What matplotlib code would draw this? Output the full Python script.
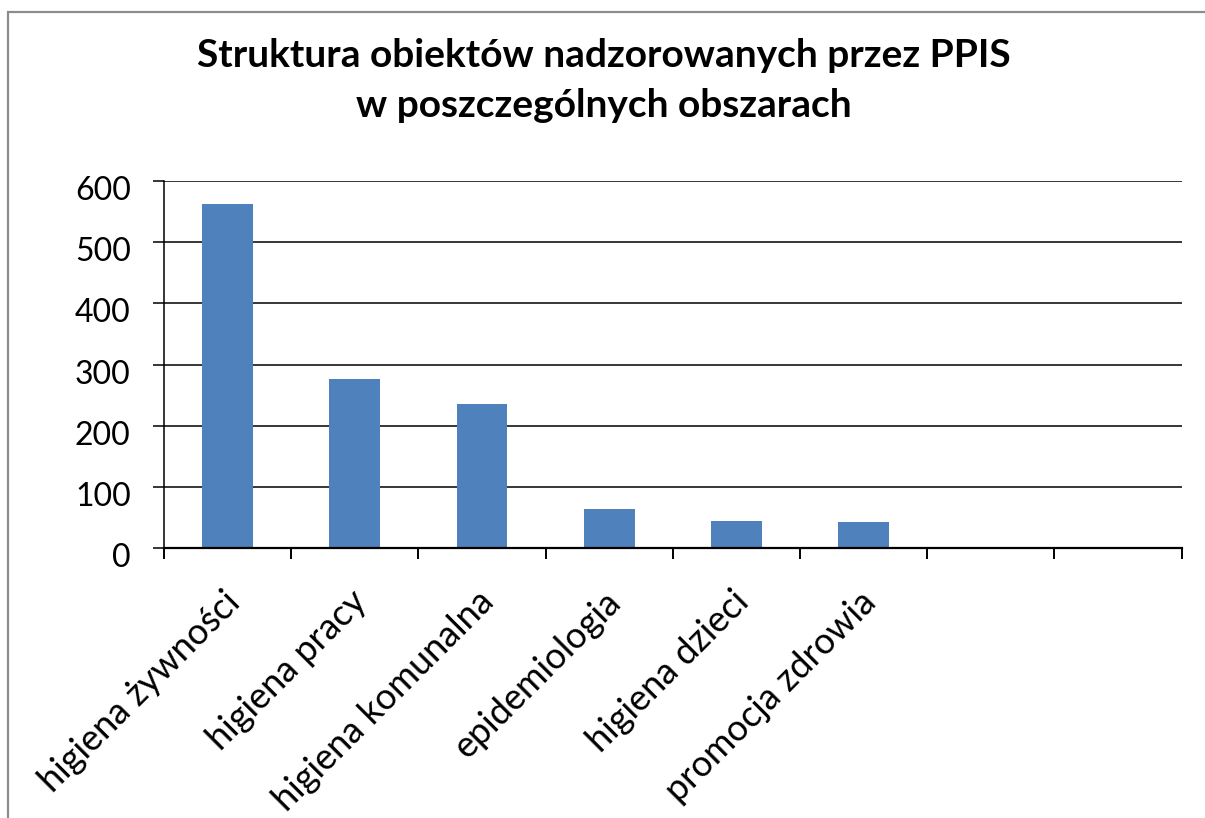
import matplotlib
matplotlib.use('Agg')
import matplotlib.pyplot as plt
import matplotlib.transforms as mtransforms
from matplotlib.patches import Rectangle

plt.rcParams['font.family'] = ['Lato', 'DejaVu Sans']

# data
categories = ['higiena żywności', 'higiena pracy', 'higiena komunalna',
              'epidemiologia', 'higiena dzieci', 'promocja zdrowia', '', '']
values = [563, 276, 235, 63, 44, 43]
yticks = [0, 100, 200, 300, 400, 500, 600]
title_lines = ['Struktura obiektów nadzorowanych przez PPIS',
               'w poszczególnych obszarach']

BAR_COLOR = '#4F81BD'

fig = plt.figure(figsize=(12.05, 8.18), dpi=100)
fig.patch.set_facecolor('white')

# chart area frame (grey border, runs past right/bottom edge like the screenshot)
fig.patches.append(Rectangle((8 / 1205, -0.05), 1.1, 1 - 12 / 818 + 0.05,
                             transform=fig.transFigure, fill=False,
                             edgecolor='#8c8c8c', linewidth=1.6))

ax = fig.add_axes([164 / 1205, 1 - 548 / 818, (1181.5 - 164) / 1205, (548 - 181) / 818])

centers = [i + 0.5 for i in range(len(values))]
ax.bar(centers, values, width=0.4, color=BAR_COLOR, zorder=3)

ax.set_xlim(0, len(categories))
ax.set_ylim(0, 600)

# y axis
ax.set_yticks(yticks)
ax.set_yticklabels([str(v) for v in yticks], fontsize=23)
ax.yaxis.grid(True, color='black', linewidth=1.1, zorder=1)
ax.tick_params(axis='y', direction='out', length=8, width=1.1, pad=16, colors='black')
off_y = mtransforms.ScaledTranslation(0, -0.07, fig.dpi_scale_trans)
for lab in ax.get_yticklabels():
    lab.set_transform(lab.get_transform() + off_y)

# x axis: ticks on category boundaries, labels at centres
ax.set_xticks(range(len(categories) + 1))
ax.set_xticklabels([])
ax.tick_params(axis='x', which='major', direction='out', length=8, width=1.4)
ax.set_xticks([i + 0.5 for i in range(len(categories))], minor=True)
ax.set_xticklabels(categories, minor=True, fontsize=26)
ax.tick_params(axis='x', which='minor', length=0, pad=0)
off_x = mtransforms.ScaledTranslation(-0.05, -0.37, fig.dpi_scale_trans)
for lab in ax.get_xticklabels(minor=True):
    lab.set_rotation(45)
    lab.set_rotation_mode('anchor')
    lab.set_ha('right')
    lab.set_va('top')
    lab.set_transform(lab.get_transform() + off_x)

for side in ['top', 'right']:
    ax.spines[side].set_visible(False)
ax.spines['left'].set_linewidth(1.1)
ax.spines['bottom'].set_linewidth(1.6)
ax.spines['bottom'].set_zorder(4)

# two-line title, baselines placed separately
fig.text(0.501, 1 - 67 / 818, title_lines[0], ha='center', va='baseline',
         fontsize=28, fontweight='bold')
fig.text(0.501, 1 - 117 / 818, title_lines[1], ha='center', va='baseline',
         fontsize=28, fontweight='bold')

fig.savefig('out.png', dpi=100, facecolor='white')
